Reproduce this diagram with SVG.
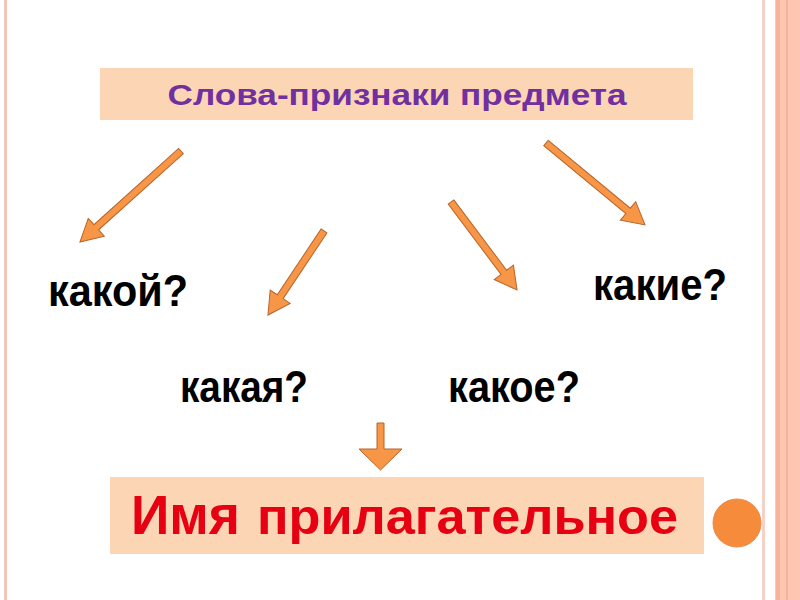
<svg xmlns="http://www.w3.org/2000/svg" width="800" height="600" viewBox="0 0 800 600">
<style>
.box{fill:#fcd5b5}
.q{font-family:"Liberation Sans",Arial,sans-serif;font-weight:bold;font-size:45px;fill:#000}
.arr{fill:#f79646;stroke:#b8642a;stroke-width:1}
</style>
<rect x="0" y="0" width="800" height="600" fill="#fff"/>
<g id="frame">
<rect x="4" y="0" width="3" height="600" fill="#f4c4b4"/>
<rect x="762" y="0" width="3" height="600" fill="#f6d2c6"/>
<rect x="775" y="0" width="25" height="600" fill="#fcc6b0"/>
<rect x="776" y="0" width="4" height="600" fill="#f8b49a"/>
<rect x="786" y="0" width="2" height="600" fill="#f6b49c"/>
</g>
<g id="title">
<rect class="box" x="100" y="68" width="593" height="52"/>
<text x="397" y="105" text-anchor="middle" font-family="Liberation Sans, Arial, sans-serif" font-weight="bold" font-size="29" fill="#7030a0" textLength="459" lengthAdjust="spacingAndGlyphs">Слова-признаки предмета</text>
</g>
<g id="q1"><text class="q" x="48" y="306" textLength="140" lengthAdjust="spacingAndGlyphs">какой?</text></g>
<g id="q2"><text class="q" x="180" y="402" textLength="128" lengthAdjust="spacingAndGlyphs">какая?</text></g>
<g id="q3"><text class="q" x="448" y="402" textLength="132" lengthAdjust="spacingAndGlyphs">какое?</text></g>
<g id="q4"><text class="q" x="593" y="300" textLength="134" lengthAdjust="spacingAndGlyphs">какие?</text></g>
<g id="result">
<rect class="box" x="110" y="477" width="594" height="77"/>
<text y="534" font-family="Liberation Sans, Arial, sans-serif" font-weight="bold" fill="#e60012"><tspan x="131" font-size="56" textLength="109" lengthAdjust="spacingAndGlyphs">Имя</tspan><tspan x="257" font-size="50" textLength="421" lengthAdjust="spacingAndGlyphs">прилагательное</tspan></text>
</g>
<g id="dot"><circle cx="737" cy="523" r="24" fill="#f78b3c" stroke="#ec8a4a" stroke-width="1"/></g>
<g id="connectors">
<polygon class="arr" transform="translate(181,151) rotate(138)" points="0,-3.5 114,-3.5 114,-12 136,0 114,12 114,3.5 0,3.5"/>
<polygon class="arr" transform="translate(324,231) rotate(123.7)" points="0,-3.5 79,-3.5 79,-12 101,0 79,12 79,3.5 0,3.5"/>
<polygon class="arr" transform="translate(451,202) rotate(53.1)" points="0,-3.5 88,-3.5 88,-12 110,0 88,12 88,3.5 0,3.5"/>
<polygon class="arr" transform="translate(546,143) rotate(39.6)" points="0,-3.5 106.5,-3.5 106.5,-12 128.5,0 106.5,12 106.5,3.5 0,3.5"/>
<polygon class="arr" points="377,423 384,423 384,449 402,449 380.5,470 359,449 377,449"/>
</g>
</svg>
